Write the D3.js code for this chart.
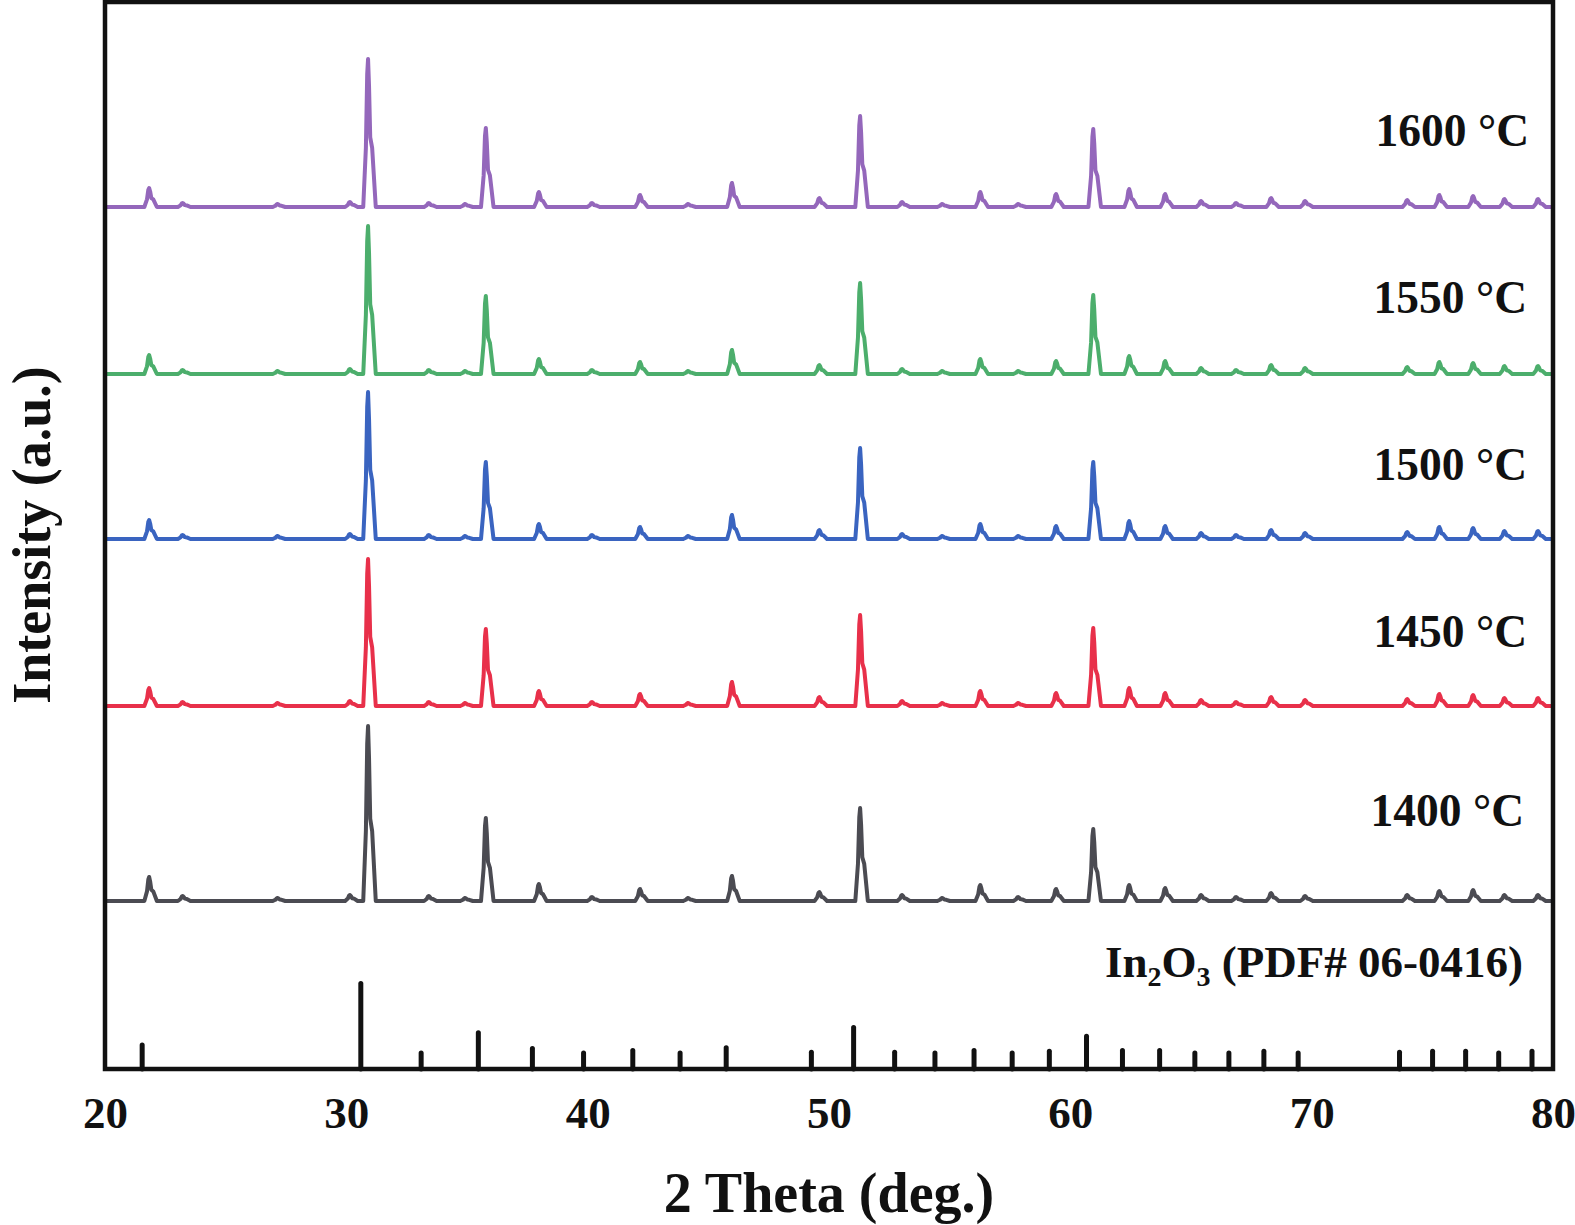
<!DOCTYPE html>
<html>
<head>
<meta charset="utf-8">
<script src="https://cdn.jsdelivr.net/npm/d3@7/dist/d3.min.js"></script>
<style>
  html, body { margin: 0; padding: 0; background: #fff; }
  svg { display: block; }
  text { font-family: "Liberation Serif", "Times New Roman", serif; font-weight: bold; fill: #111; }
</style>
</head>
<body>
<svg id="chart" width="1575" height="1225"></svg>
<script>
// ---------------- DATA ----------------
// Peak positions (2θ, deg) observed in the measured patterns
const peakPos = [21.83, 23.22, 27.15, 30.15, 30.9, 33.42, 34.92, 35.78, 37.98, 40.18,
                 42.17, 44.16, 45.98, 49.6, 51.29, 53.03, 54.69, 56.27, 57.84, 59.41,
                 60.95, 62.44, 63.93, 65.42, 66.87, 68.32, 69.73, 73.96, 75.29, 76.69,
                 77.99, 79.38];

// Peak heights above baseline (a.u.) for each sintering temperature
const h1400 = [24, 5, 3, 6, 175, 5, 3, 83, 17, 4, 12, 3, 25, 9, 93, 6, 3, 16, 4, 12,
               72, 16, 13, 6, 4, 8, 5, 6, 10, 11, 6, 6];
const h1450 = [18, 4, 3, 5, 147, 4, 3, 77, 15, 4, 12, 3, 24, 9, 91, 5, 3, 15, 3, 13,
               78, 18, 13, 6, 4, 9, 6, 7, 12, 11, 8, 8];
const h1500 = [19, 4, 3, 5, 147, 4, 3, 77, 15, 4, 12, 3, 24, 9, 91, 5, 3, 15, 3, 13,
               77, 18, 13, 6, 4, 9, 6, 7, 12, 11, 8, 8];
const h1550 = [19, 4, 3, 5, 148, 4, 3, 78, 15, 4, 12, 3, 24, 9, 91, 5, 3, 15, 3, 13,
               79, 18, 13, 6, 4, 9, 6, 7, 12, 11, 8, 8];
const h1600 = [19, 4, 3, 5, 148, 4, 3, 79, 15, 4, 12, 3, 24, 9, 91, 5, 3, 15, 3, 13,
               78, 18, 13, 6, 4, 9, 6, 7, 12, 11, 8, 8];

// Vertical offsets (baselines, a.u.) of the stacked patterns
const seriesNames = ["1400 °C", "1450 °C", "1500 °C", "1550 °C", "1600 °C"];
const seriesOffsets = [168, 363, 530, 695, 862];
const seriesHeights = [h1400, h1450, h1500, h1550, h1600];
const seriesColors = ["#4b4b52", "#e8304a", "#3a64c0", "#4cae6c", "#9467bb"];

// Reference pattern In2O3 (PDF# 06-0416): positions and relative intensities
const refPos = [21.54, 30.60, 33.10, 35.47, 37.71, 39.83, 41.87, 43.83, 45.74, 49.27,
                51.02, 52.72, 54.39, 56.01, 57.59, 59.13, 60.67, 62.16, 63.70, 65.16,
                66.57, 68.02, 69.44, 73.64, 75.01, 76.38, 77.75, 79.13];
const refInt = [30, 100, 21, 44, 26, 21, 24, 21, 27, 22,
                50, 22, 21, 24, 21, 23, 40, 24, 24, 21,
                21, 23, 21, 22, 23, 23, 21, 23];

const xTicks = [20, 30, 40, 50, 60, 70, 80];

// ---------------- LAYOUT ----------------
const plot = { left: 105, top: 2, right: 1553, bottom: 1069 };

const svg = d3.select("#chart");

const x = d3.scaleLinear().domain([20, 80]).range([plot.left, plot.right]);
const y = d3.scaleLinear().domain([0, 1067]).range([plot.bottom, plot.top]);
const yRef = d3.scaleLinear().domain([0, 100]).range([plot.bottom, plot.bottom - 88]);

svg.append("defs").append("clipPath").attr("id", "clip")
  .append("rect").attr("x", plot.left).attr("y", plot.top)
  .attr("width", plot.right - plot.left).attr("height", plot.bottom - plot.top);

// Peak shape template (offset in deg, fraction of height) — rendering style
const shoulderFrac = 0.47;
const shape = [[-0.2, 0], [-0.09, 0.4], [-0.035, 0.9], [0, 1], [0.04, 0.82],
               [0.09, null], [0.17, "s85"], [0.32, 0]];
function profile(heights, base) {
  const pts = [[20, base]];
  peakPos.forEach((p, i) => {
    const h = heights[i];
    const s = shoulderFrac * h;
    shape.forEach(([dx, f]) => {
      let v;
      if (f === null) v = s;
      else if (f === "s85") v = 0.85 * s;
      else v = f * h;
      pts.push([p + dx, base + v]);
    });
  });
  pts.push([80, base]);
  return pts;
}

const line = d3.line().x(d => x(d[0])).y(d => y(d[1])).curve(d3.curveLinear);

const gSeries = svg.append("g").attr("clip-path", "url(#clip)");
seriesNames.forEach((name, i) => {
  gSeries.append("path")
    .datum(profile(seriesHeights[i], seriesOffsets[i]))
    .attr("d", line)
    .attr("fill", "none")
    .attr("stroke", seriesColors[i])
    .attr("stroke-width", 4)
    .attr("stroke-linejoin", "round")
    .attr("stroke-linecap", "round");
});

// Reference sticks
svg.append("g").selectAll("line").data(refPos).join("line")
  .attr("x1", d => x(d)).attr("x2", d => x(d))
  .attr("y1", plot.bottom)
  .attr("y2", (d, i) => yRef(refInt[i]) + 2.5)
  .attr("stroke", "#111")
  .attr("stroke-width", 5)
  .attr("stroke-linecap", "round");

// Frame
svg.append("rect")
  .attr("x", plot.left).attr("y", plot.top)
  .attr("width", plot.right - plot.left).attr("height", plot.bottom - plot.top)
  .attr("fill", "none").attr("stroke", "#111").attr("stroke-width", 4.5);

// X axis tick labels
const xAxis = d3.axisBottom(x).tickValues(xTicks).tickSize(0).tickPadding(0)
  .tickFormat(d3.format("d"));
const gx = svg.append("g").attr("transform", `translate(0,${plot.bottom})`).call(xAxis);
gx.select(".domain").remove();
gx.selectAll("text")
  .attr("y", 59).attr("dy", 0)
  .style("font-size", "45px")
  .style("font-family", "'Liberation Serif', 'Times New Roman', serif")
  .style("font-weight", "bold")
  .attr("fill", "#111");

// Axis titles
svg.append("text")
  .attr("x", (plot.left + plot.right) / 2).attr("y", 1212)
  .attr("text-anchor", "middle")
  .style("font-size", "56px")
  .text("2 Theta (deg.)");

svg.append("text")
  .attr("transform", `translate(50,${535}) rotate(-90)`)
  .attr("text-anchor", "middle")
  .style("font-size", "54px")
  .text("Intensity (a.u.)");

// Series labels
const labelPos = [[1524, 826], [1527, 647], [1527, 480], [1527, 313], [1529, 146]];
seriesNames.forEach((name, i) => {
  svg.append("text")
    .attr("x", labelPos[i][0]).attr("y", labelPos[i][1])
    .attr("text-anchor", "end")
    .style("font-size", "45.5px")
    .text(name);
});

// Reference label with subscripts
const ref = svg.append("text")
  .attr("x", 1523).attr("y", 977)
  .attr("text-anchor", "end")
  .style("font-size", "45px");
ref.append("tspan").text("In");
ref.append("tspan").attr("dy", 9).style("font-size", "28px").text("2");
ref.append("tspan").attr("dy", -9).text("O");
ref.append("tspan").attr("dy", 9).style("font-size", "28px").text("3");
ref.append("tspan").attr("dy", -9).text(" (PDF# 06-0416)");
</script>
</body>
</html>
